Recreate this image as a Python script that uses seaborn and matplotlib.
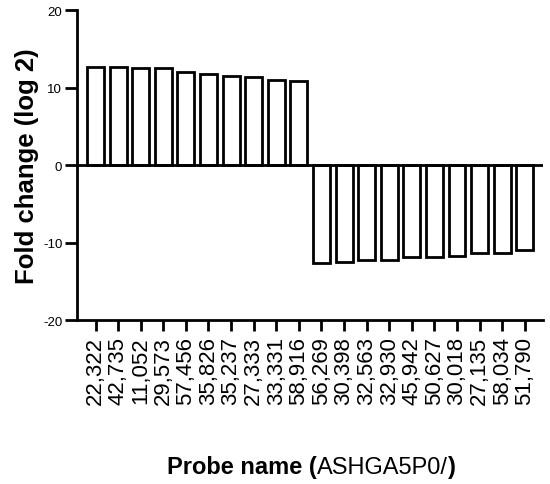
import matplotlib
matplotlib.use("Agg")
import matplotlib.pyplot as plt
import pandas as pd
import seaborn as sns

# probe ids (ASHGA5P0xxxxx) and log2 fold change
probes = ['22,322', '42,735', '11,052', '29,573', '57,456', '35,826', '35,237',
          '27,333', '33,331', '58,916', '56,269', '30,398', '32,563', '32,930',
          '45,942', '50,627', '30,018', '27,135', '58,034', '51,790']
fold_change = [12.7, 12.6, 12.5, 12.5, 12.0, 11.8, 11.5, 11.4, 11.0, 10.9,
               -12.6, -12.5, -12.3, -12.2, -11.9, -11.9, -11.75, -11.4, -11.3, -11.0]
y_ticks = [-20, -10, 0, 10, 20]

df = pd.DataFrame({'probe': probes, 'fc': fold_change})

sns.set_style("ticks")
plt.rcParams['font.family'] = ['Liberation Sans', 'DejaVu Sans']
plt.rcParams.update({'text.color': 'black', 'axes.labelcolor': 'black',
                     'xtick.color': 'black', 'ytick.color': 'black'})

fig = plt.figure(figsize=(5.5, 4.85), dpi=100)
ax = fig.add_axes([0.14, 0.338, 0.847, 0.639])

sns.barplot(data=df, x='probe', y='fc', color='white', edgecolor='black',
            linewidth=2, width=0.75, saturation=1, ax=ax)
ax.axhline(0, color='black', linewidth=2, zorder=3)

ax.set_ylim(-20, 20)
ax.set_xlim(-0.82, 19.8)
ax.set_yticks(y_ticks)
ax.set_yticklabels([str(t) for t in y_ticks], fontsize=9.5)
ax.tick_params(axis='y', length=8.6, width=2, pad=2)
ax.tick_params(axis='x', length=8, width=2, pad=3.5, labelsize=16, rotation=90)

for side in ['top', 'right']:
    ax.spines[side].set_visible(False)
for side in ['left', 'bottom']:
    ax.spines[side].set_linewidth(2)
    ax.spines[side].set_color('black')

ax.set_xlabel('')
ax.set_ylabel('Fold change (log 2)', fontsize=18.5, fontweight='bold', labelpad=3)

# x label: bold text with a regular-weight probe prefix inside
t1 = fig.text(167 / 550, 1 - 474 / 485, 'Probe name (', fontsize=17,
              fontweight='bold', ha='left', va='baseline')
t2 = ax.annotate('ASHGA5P0/', xy=(1, 0), xycoords=t1, xytext=(0, 0),
                 textcoords='offset points', fontsize=17, va='bottom', ha='left',
                 annotation_clip=False)
t3 = ax.annotate(')', xy=(1, 0), xycoords=t2, fontsize=17, fontweight='bold',
                 va='bottom', ha='left', annotation_clip=False)

fig.savefig('out.png', dpi=100)
